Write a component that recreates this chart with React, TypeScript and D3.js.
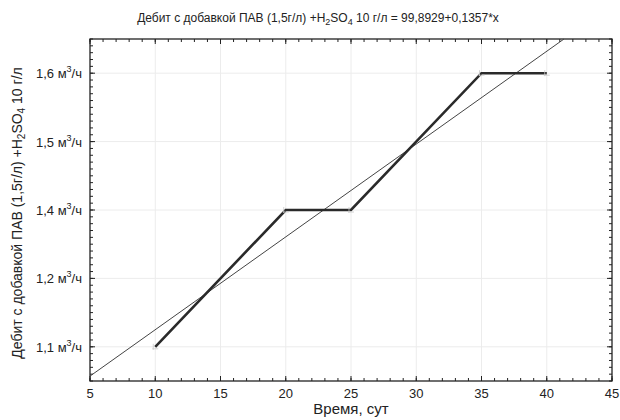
import React from "react";
import * as d3 from "d3";

const days = [10, 20, 25, 35, 40];
const debit = [101, 103, 103, 105, 105];
const yTickValues = [101, 102, 103, 104, 105];
const yTickLabels = ["1,1", "1,2", "1,4", "1,5", "1,6"];
const xTickValues = [5, 10, 15, 20, 25, 30, 35, 40, 45];
const regIntercept = 99.8929;
const regSlope = 0.1357;

const W = 620;
const H = 420;
const left = 90;
const right = 612;
const top = 39;
const bottom = 381;
const FONT = "'Liberation Sans', Arial, sans-serif";

export default function App() {
  const x = d3.scaleLinear().domain([5, 45]).range([left, right]);
  const y = d3.scaleLinear().domain([100.5, 105.5]).range([bottom, top]);

  const line = d3
    .line<[number, number]>()
    .x((d) => x(d[0]))
    .y((d) => y(d[1]));
  const pts: [number, number][] = days.map((d, i) => [d, debit[i]]);

  // regression line clipped to plot
  const [x0, x1] = x.domain();
  const [yMin, yMax] = y.domain();
  let ra = x0;
  let rb = x1;
  const xAtMax = (yMax - regIntercept) / regSlope;
  const xAtMin = (yMin - regIntercept) / regSlope;
  ra = Math.max(ra, xAtMin);
  rb = Math.min(rb, xAtMax);
  const reg: [number, number][] = [
    [ra, regIntercept + regSlope * ra],
    [rb, regIntercept + regSlope * rb],
  ];

  const xMinor = d3.range(5, 45.001, 1);
  const yMinor = d3.range(100.5, 105.5001, 0.1);

  return (
    <svg
      width={W}
      height={H}
      style={{ position: "absolute", left: 0, top: 0, background: "#fff" }}
      fontFamily={FONT}
    >
      <rect x={0} y={0} width={W} height={H} fill="#fff" />
      {/* grid */}
      {xTickValues.slice(1, -1).map((v) => (
        <line key={"gx" + v} x1={x(v)} x2={x(v)} y1={top} y2={bottom} stroke="#ececec" strokeWidth={1} />
      ))}
      {yTickValues.map((v) => (
        <line key={"gy" + v} x1={left} x2={right} y1={y(v)} y2={y(v)} stroke="#ececec" strokeWidth={1} />
      ))}

      {/* minor ticks */}
      {xMinor.map((v, i) => (
        <g key={"mx" + i}>
          <line x1={x(v)} x2={x(v)} y1={bottom} y2={bottom - 3} stroke="#222" />
          <line x1={x(v)} x2={x(v)} y1={top} y2={top + 3} stroke="#222" />
        </g>
      ))}
      {yMinor.map((v, i) => (
        <g key={"my" + i}>
          <line x1={left} x2={left + 3} y1={y(v)} y2={y(v)} stroke="#222" />
          <line x1={right} x2={right - 3} y1={y(v)} y2={y(v)} stroke="#222" />
        </g>
      ))}
      {xTickValues.map((v) => (
        <g key={"Mx" + v}>
          <line x1={x(v)} x2={x(v)} y1={bottom} y2={bottom - 5} stroke="#222" />
          <line x1={x(v)} x2={x(v)} y1={top} y2={top + 5} stroke="#222" />
        </g>
      ))}
      {yTickValues.map((v) => (
        <g key={"My" + v}>
          <line x1={left} x2={left + 5} y1={y(v)} y2={y(v)} stroke="#222" />
          <line x1={right} x2={right - 5} y1={y(v)} y2={y(v)} stroke="#222" />
        </g>
      ))}

      {/* frame */}
      <rect x={left} y={top} width={right - left} height={bottom - top} fill="none" stroke="#222" strokeWidth={1.3} />

      {/* regression line */}
      <path d={line(reg) || ""} fill="none" stroke="#444" strokeWidth={1} />

      {/* data line */}
      <path d={line(pts) || ""} fill="none" stroke="#2a2a2a" strokeWidth={2.6} strokeLinejoin="miter" />
      {pts.map((p, i) => (
        <g key={"pt" + i} stroke="#c8c8c8" strokeWidth={0.8}>
          <line x1={x(p[0]) - 3} x2={x(p[0]) + 3} y1={y(p[1]) + 2} y2={y(p[1]) + 2} />
          <line x1={x(p[0]) - 2} x2={x(p[0]) - 2} y1={y(p[1]) - 3} y2={y(p[1]) + 3} />
        </g>
      ))}

      {/* x tick labels */}
      {xTickValues.map((v) => (
        <text key={"xl" + v} x={x(v)} y={bottom + 17} fontSize={13} textAnchor="middle" fill="#222">
          {v}
        </text>
      ))}
      {/* y tick labels */}
      {yTickValues.map((v, i) => (
        <text key={"yl" + v} x={left - 8} y={y(v) + 5} fontSize={13} textAnchor="end" fill="#222">
          {yTickLabels[i]} м
          <tspan dy={-6} fontSize={9}>3</tspan>
          <tspan dy={6}>/ч</tspan>
        </text>
      ))}

      {/* title */}
      <text x={318} y={22} fontSize={12} textAnchor="middle" fill="#222">
        Дебит с добавкой ПАВ (1,5г/л) +H
        <tspan dy={3} fontSize={9}>2</tspan>
        <tspan dy={-3}>SO</tspan>
        <tspan dy={3} fontSize={9}>4</tspan>
        <tspan dy={-3}> 10 г/л = 99,8929+0,1357*x</tspan>
      </text>

      {/* x axis title */}
      <text x={351} y={414} fontSize={15} textAnchor="middle" fill="#222">
        Время, сут
      </text>

      {/* y axis title */}
      <text
        transform={`translate(22, ${(top + bottom) / 2 + 3}) rotate(-90)`}
        fontSize={14}
        textAnchor="middle"
        fill="#222"
      >
        Дебит с добавкой ПАВ (1,5г/л) +H
        <tspan dy={3} fontSize={10}>2</tspan>
        <tspan dy={-3}>SO</tspan>
        <tspan dy={3} fontSize={10}>4</tspan>
        <tspan dy={-3}> 10 г/л</tspan>
      </text>
    </svg>
  );
}
